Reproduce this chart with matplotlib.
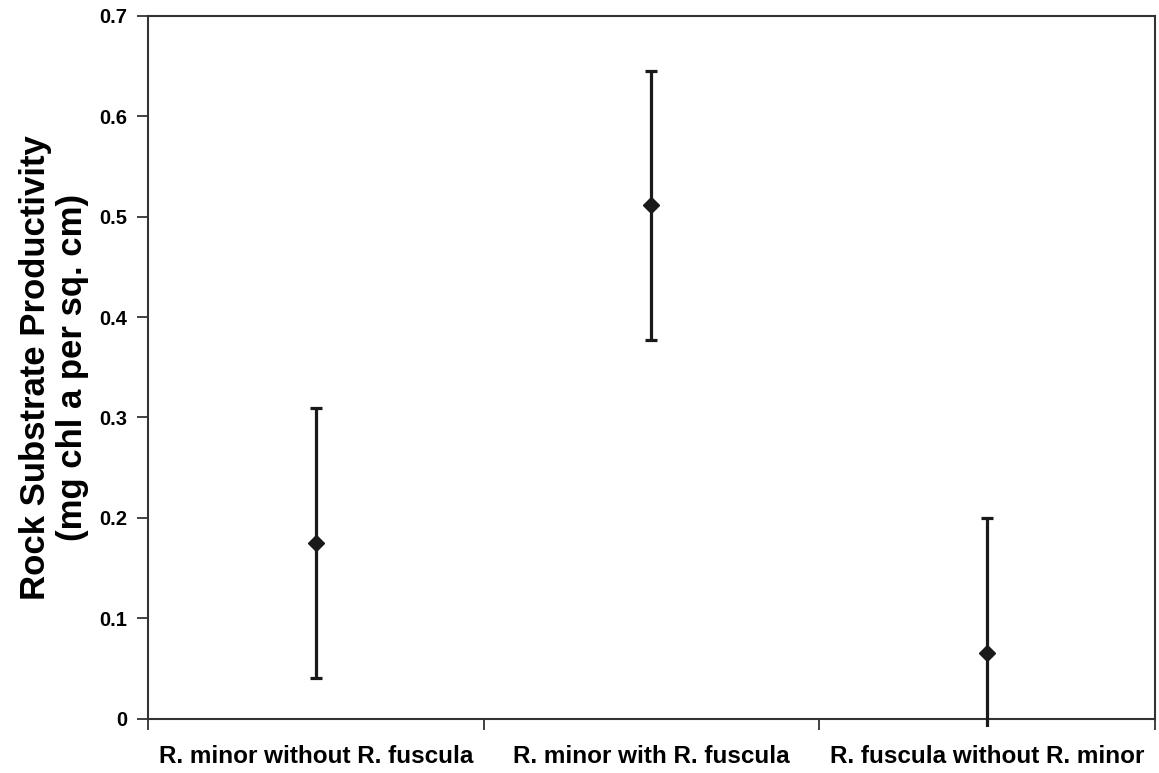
import matplotlib
matplotlib.use("Agg")
import matplotlib.pyplot as plt
from matplotlib.patches import Rectangle

categories = ["R. minor without R. fuscula", "R. minor with R. fuscula", "R. fuscula without R. minor"]
means = [0.175, 0.511, 0.066]
errors = [0.134, 0.134, 0.134]
yticks = [0, 0.1, 0.2, 0.3, 0.4, 0.5, 0.6, 0.7]
ytick_labels = ["0", "0.1", "0.2", "0.3", "0.4", "0.5", "0.6", "0.7"]

plt.rcParams["font.family"] = ["Liberation Sans", "DejaVu Sans"]
plt.rcParams["font.weight"] = "bold"

fig = plt.figure(figsize=(11.59, 7.73), dpi=100)
ax = fig.add_axes([0.1277, 0.0699, 0.8688, 0.9100])

ink = "#1a1a1a"
spine_col = "#333333"

x = list(range(len(categories)))
cont = ax.errorbar(x, means, yerr=errors, fmt="D", color=ink, ecolor=ink,
                   markersize=8, elinewidth=2.3, capsize=4.5, capthick=2.3,
                   zorder=3)

# let error bars run a little past the plot frame, as the axis line does
clip = Rectangle((0, -0.012), 1, 1.03, transform=ax.transAxes,
                 facecolor="none", edgecolor="none")
ax.add_patch(clip)
for art in list(cont.lines[1]) + list(cont.lines[2]):
    art.set_clip_path(clip)

ax.set_xlim(-0.5, len(categories) - 0.5)
ax.set_ylim(0, 0.7)

ax.set_yticks(yticks)
ax.set_yticklabels(ytick_labels, fontsize=14.5, fontweight="bold")

# category boundaries carry the tick marks; labels sit between them
ax.set_xticks([i - 0.5 for i in range(len(categories) + 1)])
ax.set_xticklabels([])
ax.set_xticks(x, minor=True)
ax.set_xticklabels(categories, minor=True, fontsize=17.5, fontweight="bold")
ax.tick_params(axis="x", which="minor", length=0, pad=19)
ax.tick_params(axis="x", which="major", length=8, width=1.3, color=spine_col,
               direction="out")
ax.tick_params(axis="y", length=8, width=1.3, color=spine_col, direction="out",
               pad=7)

for s in ax.spines.values():
    s.set_color(spine_col)
    s.set_linewidth(1.5)

ax.set_ylabel("Rock Substrate Productivity\n(mg chl a per sq. cm)",
              fontsize=25, fontweight="bold", labelpad=7, linespacing=1.17)

fig.savefig("out.png", dpi=100)
